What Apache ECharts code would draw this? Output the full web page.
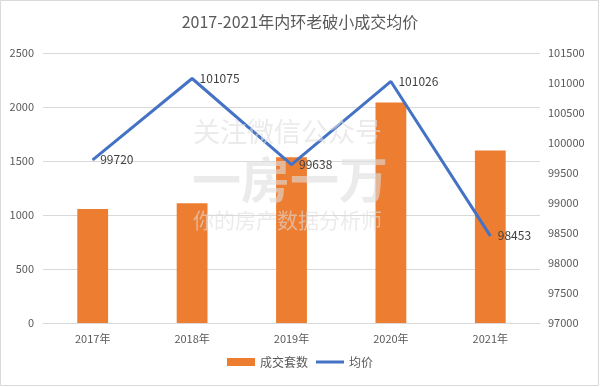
<!DOCTYPE html>
<html><head><meta charset="utf-8">
<script src="https://cdn.jsdelivr.net/npm/echarts@6/dist/echarts.min.js"></script>
<style>html,body{margin:0;padding:0;background:#fff}#c{width:600px;height:387px}</style>
</head><body><div id="c"></div>
<script>
const categories = ['2017年','2018年','2019年','2020年','2021年'];
const deals = [1055, 1108, 1535, 2042, 1598];
const avgPrice = [99720, 101075, 99638, 101026, 98453];
const font = '"Microsoft YaHei","Noto Sans CJK SC","DejaVu Sans",sans-serif';
const plain = v => String(v);
const chart = echarts.init(document.getElementById('c'));
chart.setOption({
  animation: false,
  textStyle: {fontFamily: font},
  title: {text: '2017-2021年内环老破小成交均价', left: 'center', top: 9,
    textStyle: {fontSize: 16, fontWeight: 'normal', color: '#595959', fontFamily: font}},
  grid: {left: 43, right: 60, top: 53, bottom: 64},
  legend: {bottom: 14, left: 'center', itemWidth: 28, itemHeight: 8, itemGap: 8,
    textStyle: {fontSize: 12, color: '#595959'},
    data: [{name: '成交套数', icon: 'rect'}, {name: '均价', icon: 'path://M0,0 L28,0 L28,3 L0,3 Z'}]},
  xAxis: {type: 'category', data: categories,
    axisLine: {lineStyle: {color: '#d9d9d9'}}, axisTick: {show: false},
    axisLabel: {color: '#595959', fontSize: 11, margin: 10}},
  yAxis: [
    {type: 'value', min: 0, max: 2500, interval: 500,
      axisLine: {show: false}, axisTick: {show: false},
      axisLabel: {color: '#595959', fontSize: 11, margin: 9, formatter: plain},
      splitLine: {lineStyle: {color: '#d9d9d9'}}},
    {type: 'value', min: 97000, max: 101500, interval: 500, position: 'right',
      axisLine: {show: false}, axisTick: {show: false},
      axisLabel: {color: '#595959', fontSize: 11, margin: 8, formatter: plain},
      splitLine: {show: false}}
  ],
  series: [
    {name: '成交套数', type: 'bar', data: deals, barWidth: '31%',
      itemStyle: {color: '#ED7D31'}},
    {name: '均价', type: 'line', yAxisIndex: 1, data: avgPrice, symbol: 'circle', symbolSize: 1,
      showSymbol: true,
      lineStyle: {color: '#4472C4', width: 3}, itemStyle: {color: '#4472C4'},
      label: {show: true, position: 'right', distance: 7, color: '#404040', fontSize: 12,
        formatter: p => String(p.value)}}
  ],
  graphic: [
    {type: 'rect', shape: {x: 0.5, y: 0.5, width: 598, height: 385},
      style: {fill: 'none', stroke: '#d9d9d9', lineWidth: 1}, z: 0},
    {type: 'text', x: 193, y: 118, z: 100,
      style: {text: '关注微信公众号', fontSize: 27, fontFamily: font, fill: 'rgba(222,222,222,0.6)'}},
    {type: 'text', x: 192, y: 155, z: 100,
      style: {text: '一房一万', fontSize: 49, fontWeight: 'bold', fontFamily: font, fill: 'rgba(222,222,222,0.6)'}},
    {type: 'text', x: 193, y: 210, z: 100,
      style: {text: '你的房产数据分析师', fontSize: 21, fontFamily: font, fill: 'rgba(222,222,222,0.6)'}}
  ]
});
</script></body></html>
